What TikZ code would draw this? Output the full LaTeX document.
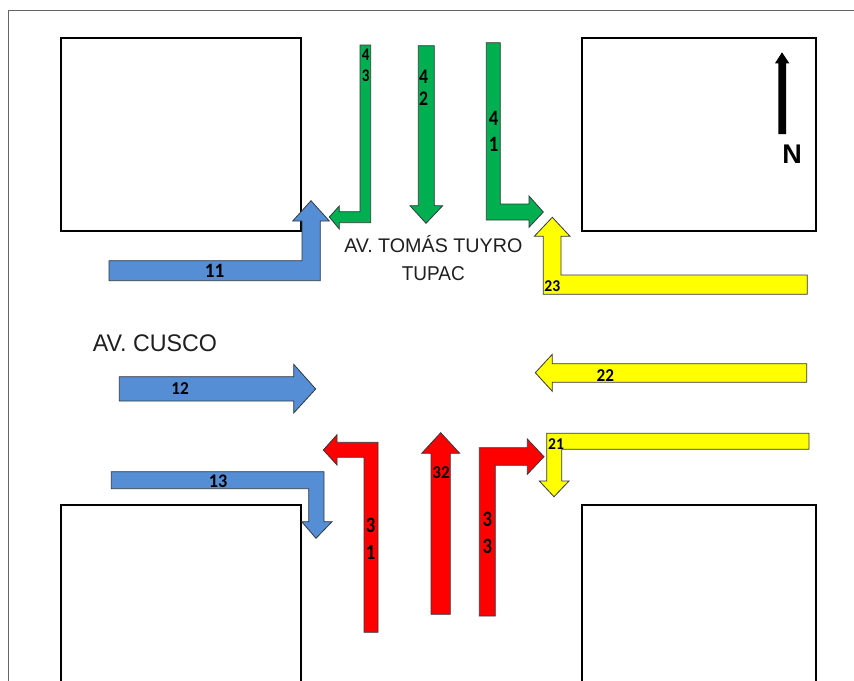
\documentclass[tikz,border=0pt]{standalone}
\usepackage{fontspec}
\usepackage{graphicx}
\setmainfont{Liberation Sans}
\newfontfamily\numfont{Carlito}[BoldFont={Carlito Bold}]
\newcommand{\tallnum}[1]{\scalebox{1.04}[1.22]{#1}}
\newcommand{\semitall}[1]{\scalebox{1.04}[1.1]{#1}}
\definecolor{blueA}{HTML}{558ED5}
\definecolor{greenA}{HTML}{00B050}
\definecolor{yellowA}{HTML}{FFFF00}
\definecolor{redA}{HTML}{FF0000}
\definecolor{edgeA}{HTML}{33383D}
\tikzset{
  block/.style={draw=black,line width=1.7pt,fill=none},
  frameline/.style={draw=black!60,line width=1pt},
  flow/.style={draw=edgeA,line width=0.8pt,line join=miter,miter limit=6},
  flowblue/.style={flow,fill=blueA},
  flowgreen/.style={flow,fill=greenA},
  flowyellow/.style={flow,fill=yellowA},
  flowred/.style={flow,fill=redA},
  num/.style={inner sep=0pt,text=black,font={\numfont\bfseries\fontsize{#1}{#1}\selectfont}},
  street/.style={inner sep=0pt,anchor=base,text=black!88},
}
\begin{document}
\begin{tikzpicture}[x=1pt,y=-1pt]
\path[use as bounding box,clip] (0,0) rectangle (854,680);
\fill[white] (0,0) rectangle (854,680);
% frame
\draw[frameline] (8.5,681) -- (8.5,10.5) -- (855,10.5);
% blocks
\draw[block] (61,38) rectangle (301,231);
\draw[block] (582,38) rectangle (816,231);
\draw[block] (61,505) rectangle (301,690);
\draw[block] (582,505) rectangle (816,690);
% north arrow
\fill[black] (778.3,134) -- (778.3,63.3) -- (775,63.3) -- (782,52.3) -- (789.3,63.3) -- (786,63.3) -- (786,134) -- cycle;
\node[inner sep=0pt,font={\bfseries\fontsize{27}{27}\selectfont}] (north) at (792,154.5) {N};
% green
\draw[flowgreen] (360,45) -- (370.7,45) -- (370.7,222.7) -- (339.3,222.7) -- (339.3,229) -- (329.3,217) -- (339.3,206) -- (339.3,211.7) -- (360,211.7) -- cycle;
\draw[flowgreen] (418.3,45.7) -- (434.3,45.7) -- (434.3,205.7) -- (442.7,205.7) -- (426,223.3) -- (410,205.7) -- (418.3,205.7) -- cycle;
\draw[flowgreen] (486.3,42.7) -- (500.3,42.7) -- (500.3,204) -- (529,204) -- (529,196) -- (543.3,212) -- (529,227.3) -- (529,220) -- (486.3,220) -- cycle;
% blue
\draw[flowblue] (109,260.7) -- (302,260.7) -- (302,221) -- (292.7,221) -- (311,200.7) -- (329.3,221) -- (320.3,221) -- (320.3,280.7) -- (109,280.7) -- cycle;
\draw[flowblue] (119.3,376.7) -- (293.7,376.7) -- (293.7,364.3) -- (315.7,389) -- (293.7,413) -- (293.7,401) -- (119.3,401) -- cycle;
\draw[flowblue] (111.3,471.7) -- (324,471.7) -- (324,521.7) -- (332,521.7) -- (316,538.3) -- (301.7,521.7) -- (308.7,521.7) -- (308.7,488.7) -- (111.3,488.7) -- cycle;
% red
\draw[flowred] (364,632.3) -- (378,632.3) -- (378,442.3) -- (337,442.3) -- (337,434.7) -- (323.3,450) -- (337,465) -- (337,457.3) -- (364,457.3) -- cycle;
\draw[flowred] (431,614.3) -- (450.3,614.3) -- (450.3,453.3) -- (459.7,453.3) -- (440.7,432.7) -- (421.7,453.3) -- (431,453.3) -- cycle;
\draw[flowred] (479.3,616) -- (495.3,616) -- (495.3,465.3) -- (527.3,465.3) -- (527.3,474.3) -- (544,456.7) -- (527.3,439) -- (527.3,447.7) -- (479.3,447.7) -- cycle;
% yellow
\draw[flowyellow] (807.3,275) -- (561,275) -- (561,236.3) -- (570,236.3) -- (552.3,217.3) -- (534.3,236.3) -- (543.3,236.3) -- (543.3,294.3) -- (807.3,294.3) -- cycle;
\draw[flowyellow] (806.7,363.7) -- (552.3,363.7) -- (552.3,354.3) -- (535.3,372.7) -- (552.3,391.3) -- (552.3,382.3) -- (806.7,382.3) -- cycle;
\draw[flowyellow] (809,433.3) -- (546.7,433.3) -- (546.7,481) -- (539.3,481) -- (554,496.7) -- (569,481) -- (561.7,481) -- (561.7,449.3) -- (809,449.3) -- cycle;
% street names
\node[street,font={\fontsize{19.7}{20}\selectfont}] (tomas) at (433.3,252.7) {AV. TOMÁS TUYRO};
\node[street,font={\fontsize{20}{20}\selectfont}] (tupac) at (433.3,280) {\scalebox{0.95}[1]{TUPAC}};
\node[street,font={\fontsize{24}{24}\selectfont}] (cusco) at (155,351) {\scalebox{0.97}[1]{AV. CUSCO}};
% numbers
\node[num=18.5] (n11) at (214.7,271.3) {\semitall{11}};
\node[num=16.5] (n12) at (180,389) {\semitall{12}};
\node[num=17.5] (n13) at (218,481.7) {\semitall{13}};
\node[num=15] (n21) at (556,444) {\semitall{21}};
\node[num=16.5] (n22) at (605.3,376) {\semitall{22}};
\node[num=15] (n23) at (552.3,286) {\semitall{23}};
\node[num=18] (n31a) at (370.7,525.7) {\tallnum{3}};
\node[num=18] (n31b) at (370.7,552.3) {\tallnum{1}};
\node[num=16.5] (n32) at (441,472.7) {\semitall{32}};
\node[num=18] (n33a) at (487.3,519.3) {\tallnum{3}};
\node[num=18] (n33b) at (487.3,546) {\tallnum{3}};
\node[num=18] (n41a) at (493.7,118.7) {\tallnum{4}};
\node[num=18] (n41b) at (493.7,144.7) {\tallnum{1}};
\node[num=17] (n42a) at (423.7,76.7) {\tallnum{4}};
\node[num=17] (n42b) at (423.7,98.3) {\tallnum{2}};
\node[num=14.5] (n43a) at (365.7,55) {\tallnum{4}};
\node[num=14.5] (n43b) at (365.7,76) {\tallnum{3}};
\end{tikzpicture}
\end{document}
